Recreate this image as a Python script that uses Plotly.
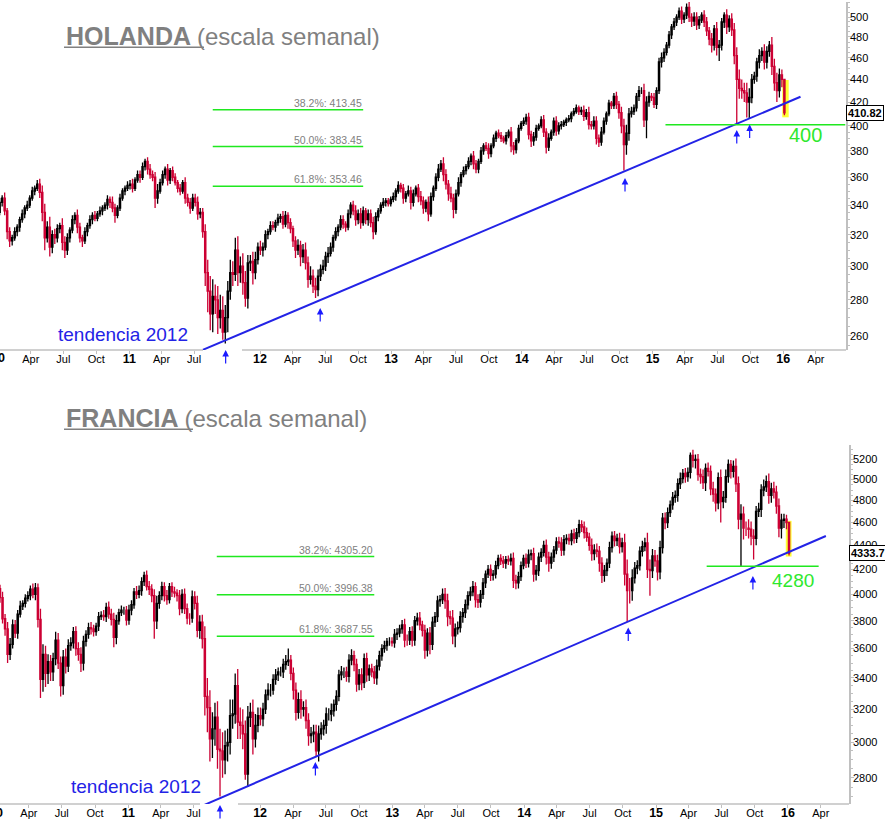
import math
import plotly.graph_objects as go
import pandas as pd

# ---------------- DATA (weekly) ----------------
# HOLANDA (AEX) weekly closes, by year (month groups separated by double space)
nl_close_2010 = [342, 345, 336, 322,  316, 318, 322, 325,  330, 334, 338, 340, 345,  350, 352, 355, 349,  335, 318, 325, 312, 320,  318, 324, 326, 315,  310, 318, 323, 330,  333, 325, 318, 316, 322,  326, 330, 333, 331,  334, 336, 338, 340,  344, 342, 338, 333, 338,  345, 350, 352, 354]
nl_close_2011 = [355, 352, 358, 362, 360,  368, 372, 366, 362,  360, 345, 350, 356,  362, 366, 358, 365,  360, 356, 352, 350, 356,  345, 342, 338, 345,  342, 334, 335, 322,  296, 285, 272, 282, 280,  270, 274, 262, 270,  285, 296, 295, 310, 296,  300, 290, 281, 302,  303, 296, 304, 312]
nl_close_2012 = [310, 312, 320, 322, 326,  325, 328, 331, 332,  327, 333, 328, 324,  316, 310, 313, 306, 310,  302, 292, 294, 288,  286, 294, 298, 300,  306, 308, 312, 318, 322,  325, 330, 327, 325,  334, 340, 336, 330,  334, 328, 336, 330, 334,  328, 322, 332, 336,  340, 342, 343, 341, 344]
nl_close_2013 = [346, 350, 354, 352,  345, 348, 350, 342,  348, 352, 346, 343,  338, 342, 334, 346, 352,  360, 366, 370, 362,  355, 348, 345, 337,  348, 356, 362, 365, 368,  372, 376, 370, 366,  372, 380, 384, 382, 378,  384, 390, 394, 392,  390, 388, 392, 395,  384, 381, 388, 398, 402]
nl_close_2014 = [404, 407, 393, 388,  391, 398, 400, 405,  395, 383, 390, 395, 404,  396, 400, 401, 403,  405, 406, 410, 412,  415, 412, 413, 408, 411,  401, 400, 404, 390,  387, 395, 404, 410,  419, 417, 425, 418, 411,  400, 385, 394, 410,  412, 415, 425, 430,  430, 405, 420, 425, 424]
nl_close_2015 = [418, 430, 456, 460,  465, 472, 482, 490,  495, 500, 506, 498, 502,  510, 500, 496, 500,  492, 497, 502, 495,  486, 478, 472, 488, 470,  472, 495, 502, 490,  498, 487, 462, 440, 432,  430, 428, 420, 424,  440, 443, 456, 462,  466, 456, 466, 472, 452,  437, 430, 444, 440]
nl_close_2016 = [410.82]
nl_open_first = 335

# upper / lower shadow lengths (index points)
nl_up_2010 = [3,2,4,2, 3,2,3,2, 2,3,2,3,2, 3,2,3,4, 5,6,4,7,3, 4,3,2,5, 4,3,2,3, 2,4,3,2,3, 2,3,2,3, 2,3,2,2, 3,2,4,3,2, 3,2,2,3]
nl_dn_2010 = [2,3,3,5, 4,3,2,3, 3,2,3,2,2, 2,3,2,4, 6,8,3,6,4, 4,3,3,5, 5,3,3,2, 3,4,3,4,2, 3,2,3,2, 2,2,3,2, 3,4,3,5,2, 2,2,3,2]
nl_up_2011 = [3,4,2,3,3, 3,2,3,4, 3,4,5,3, 3,2,4,2, 3,3,2,3,2, 4,3,3,3, 3,4,3,3, 5,8,9,10,7, 8,9,8,7, 6,8,7,8,9, 6,8,7,5, 4,6,5,3]
nl_dn_2011 = [3,3,2,2,4, 2,3,4,3, 3,7,4,2, 2,3,4,3, 3,2,3,3,2, 4,3,4,2, 3,4,3,4, 8,12,9,10,8, 9,6,4,6, 8,5,7,4,8, 6,7,5,6, 5,7,4,3]
nl_up_2012 = [4,3,3,2,3, 3,2,3,2, 4,3,2,3, 2,3,4,3,4, 5,4,6,4, 5,4,3,4, 3,4,3,2,3, 2,3,3,2, 3,2,3,4, 3,4,3,2,3, 3,4,3,2, 2,3,2,2,2]
nl_dn_2012 = [3,4,2,3,2, 2,3,2,3, 3,2,4,3, 4,5,3,6,4, 4,5,3,4, 5,4,3,3, 3,4,2,3,2, 3,2,3,3, 2,3,3,4, 3,4,2,3,4, 3,5,2,3, 2,2,3,2,2]
nl_up_2013 = [3,2,3,2, 3,2,4,3, 3,2,3,4, 3,2,4,3,2, 3,4,3,5, 4,3,5,3, 3,4,2,3,2, 3,2,4,3, 2,3,2,3,4, 2,3,2,3, 3,2,3,2, 4,3,2,3,2]
nl_dn_2013 = [2,3,2,3, 4,3,2,5, 3,2,4,3, 4,3,5,2,3, 2,3,2,5, 4,5,3,6, 3,2,3,2,3, 2,3,4,3, 3,2,3,2,4, 3,2,3,2, 3,2,3,2, 5,4,3,2,2]
nl_up_2014 = [3,3,4,3, 4,3,2,3, 4,3,4,2,3, 4,3,3,2, 2,3,2,3, 3,2,3,4,3, 5,3,4,4, 3,4,3,2, 3,2,3,4,3, 5,6,7,5, 4,3,3,4, 3,6,5,4,3]
nl_dn_2014 = [2,3,4,5, 4,3,2,2, 4,5,3,2,3, 4,3,3,2, 3,2,3,2, 2,3,3,4,3, 4,3,3,5, 4,3,2,3, 2,3,3,4,5, 6,20,8,6, 3,3,3,4, 3,6,15,4,3]
nl_up_2015 = [4,3,4,5, 4,3,4,3, 4,3,4,5,3, 4,6,4,5, 5,4,3,5, 5,4,6,4,7, 5,4,3,6, 4,6,7,8,9, 8,7,9,8, 5,4,4,6, 4,7,5,4,8, 7,9,6,5]
nl_dn_2015 = [3,4,3,5, 4,3,3,4, 3,4,3,5,4, 4,5,6,5, 5,4,3,5, 5,6,7,5,8, 13,5,6,7, 5,6,8,39,9, 7,8,13,14, 5,4,5,6, 5,7,6,5,8, 7,10,6,7]
nl_up_2016 = [0]
nl_dn_2016 = [2]

# FRANCIA (CAC 40) weekly closes
fr_close_2010 = [4045, 3975, 3815, 3740,  3560, 3630, 3770, 3710,  3850, 3910, 3930, 3970, 3990,  4040, 4000, 4050, 3810,  3390, 3560, 3430, 3510, 3440,  3530, 3660, 3500, 3350,  3540, 3480, 3620, 3640,  3720, 3600, 3560, 3500, 3650,  3700, 3750, 3740, 3720,  3760, 3830, 3840, 3830,  3900, 3850, 3810, 3680, 3800,  3860, 3880, 3880, 3805]
fr_close_2011 = [3880, 3920, 4020, 4000, 4030,  4100, 4150, 4060, 4040,  3990, 3800, 3930, 3990,  4060, 3990, 3960, 4060,  4020, 4010, 3990, 3890, 4000,  3890, 3820, 3820, 3980,  3930, 3730, 3790, 3670,  3280, 3210, 3020, 3080, 3150,  2960, 2950, 2900, 2980,  3000, 3160, 3170, 3350, 3120,  3100, 3050, 2820, 3150,  3180, 3020, 3100, 3160]
fr_close_2012 = [3140, 3200, 3290, 3320, 3320,  3390, 3420, 3440, 3440,  3490, 3510, 3520, 3430,  3320, 3180, 3260, 3200, 3210,  3130, 3040, 3050, 3060,  2950, 3050, 3080, 3100,  3170, 3170, 3190, 3230, 3280,  3420, 3440, 3440, 3410,  3520, 3550, 3490, 3360,  3420, 3370, 3530, 3420, 3460,  3440, 3400, 3480, 3550,  3600, 3620, 3650, 3650, 3640]
fr_close_2013 = [3700, 3710, 3740, 3770,  3660, 3660, 3720, 3660,  3800, 3820, 3770, 3730,  3590, 3710, 3630, 3790, 3830,  3950, 3960, 4000, 3950,  3830, 3820, 3690, 3740,  3750, 3830, 3860, 3920, 3990,  4020, 4060, 3960, 3940,  4000, 4090, 4160, 4200, 4150,  4160, 4230, 4290, 4270,  4250, 4280, 4270, 4290,  4110, 4090, 4140, 4230, 4290]
fr_close_2014 = [4250, 4320, 4330, 4160,  4190, 4300, 4340, 4400,  4300, 4250, 4300, 4360, 4430,  4420, 4360, 4450, 4460,  4440, 4500, 4460, 4510,  4580, 4560, 4510, 4470, 4400,  4330, 4360, 4350, 4250,  4150, 4190, 4250, 4380,  4480, 4440, 4460, 4390, 4420,  4160, 4030, 4030, 4130,  4210, 4230, 4350, 4390,  4420, 4200, 4190, 4310, 4270]
fr_close_2015 = [4180, 4380, 4640, 4600,  4690, 4760, 4830, 4850,  4960, 5010, 5060, 5030, 5070,  5240, 5190, 5200, 5050,  5030, 4970, 5110, 5080,  4910, 4860, 4780, 5020, 4790,  4830, 5030, 5150, 5080,  5130, 4960, 4630, 4675, 4550,  4550, 4540, 4480, 4460,  4700, 4720, 4900, 4930,  4980, 4850, 4910, 4880, 4750,  4550, 4620, 4630, 4600]
fr_close_2016 = [4333.7]
fr_open_first = 3936

fr_up_2010 = [40,30,45,35, 50,45,40,35, 30,40,25,30,35, 30,45,40,35, 80,70,60,50,45, 40,60,50,45, 50,60,45,40, 35,40,45,50,40, 30,35,40,30, 25,35,30,40, 35,45,40,50,45, 30,35,25,30]
fr_dn_2010 = [30,40,35,50, 60,40,30,35, 40,25,30,30,25, 35,30,45,60, 120,80,90,70,60, 60,45,40,70, 60,50,40,35, 40,50,45,60,50, 35,30,40,35, 30,35,25,30, 40,35,45,70,50, 30,25,35,40]
fr_up_2011 = [40,35,30,45,40, 35,30,40,45, 40,50,60,35, 40,35,45,30, 35,40,30,45,40, 45,40,35,50, 45,60,50,55, 90,120,110,100,90, 100,120,110,90, 80,100,90,80,110, 90,100,80,70, 60,80,70,50]
fr_dn_2011 = [35,40,30,35,30, 40,35,30,45, 50,130,60,40, 35,45,40,30, 40,35,45,50,35, 40,45,50,35, 45,50,60,70, 120,150,130,110,100, 110,250,100,80, 90,70,80,60,100, 80,90,30,70, 60,90,50,40]
fr_up_2012 = [50,40,35,45,40, 35,40,30,35, 40,45,80,35, 40,50,45,60,40, 50,45,40,45, 45,50,40,35, 40,35,45,30,40, 35,40,30,35, 40,45,35,40, 40,45,35,40,30, 35,40,45,35, 30,35,25,30,30]
fr_dn_2012 = [40,45,30,35,40, 30,35,40,30, 40,35,30,45, 60,50,40,60,45, 50,60,45,50, 30,60,35,40, 50,40,45,35,40, 30,35,40,35, 40,35,45,50, 40,50,35,45,40, 35,40,45,30, 35,30,35,30,25]
fr_up_2013 = [40,35,30,35, 45,40,35,40, 35,40,45,30, 40,35,45,40,35, 40,35,45,50, 55,45,60,40, 45,40,35,40,35, 40,45,35,40, 35,40,30,35,40, 35,40,30,35, 40,30,35,40, 50,45,40,35,30]
fr_dn_2013 = [35,40,30,35, 50,40,35,45, 40,35,40,45, 60,45,70,40,35, 40,45,35,60, 70,50,60,80, 40,35,45,40,35, 40,35,60,45, 40,35,40,30,45, 40,35,30,35, 40,45,35,40, 60,50,45,35,30]
fr_up_2014 = [40,45,35,50, 45,40,35,40, 50,45,40,35,40, 45,50,40,35, 40,35,45,40, 45,40,50,45,40, 60,50,55,45, 50,45,40,50, 40,45,40,50,45, 80,120,100,70, 50,45,40,50, 45,90,80,60,50]
fr_dn_2014 = [40,35,45,60, 50,45,40,35, 60,70,45,40,35, 40,50,45,40, 35,40,45,40, 40,45,50,40,45, 60,55,50,70, 60,50,45,40, 40,50,45,60,50, 90,240,100,80, 45,50,40,45, 40,70,200,60,50]
fr_up_2015 = [50,60,45,50, 45,40,50,45, 50,60,45,55,50, 30,60,50,55, 60,70,50,60, 60,70,55,50,80, 60,70,50,45, 60,80,70,90,70, 60,80,70,60, 50,60,55,70, 60,80,60,70,60, 70,60,50,40]
fr_dn_2015 = [70,60,50,60, 50,40,45,50, 60,50,45,60,50, 60,70,80,60, 70,60,80,50, 60,70,80,60,190, 60,50,60,70, 60,80,90,405,100, 70,80,80,180, 60,50,70,60, 50,80,70,60,70, 80,90,70,60]
fr_up_2016 = [0]
fr_dn_2016 = [20]

# Fibonacci retracement levels
fib_pct = ["38.2%", "50.0%", "61.8%"]
nl_fib_val = [413.45, 383.45, 353.46]
fr_fib_val = [4305.20, 3996.38, 3687.55]

# support levels / trend lines / last prices
nl_support, fr_support = 401, 4225
nl_support_label, fr_support_label = "400", "4280"
nl_trend_x, nl_trend_y = ["2011-07-25", "2016-02-18"], [252.7, 424.6]
fr_trend_x, fr_trend_y = ["2011-07-18", "2016-04-15"], [2646, 4481]
nl_last, fr_last = 410.82, 4333.7
nl_arrow_dates = ["2011-09-27", "2012-06-17", "2014-10-16", "2015-08-24", "2015-09-29"]
fr_arrow_dates = ["2011-09-12", "2012-06-02", "2014-10-16", "2015-09-26"]

nl_yticks = list(range(260, 501, 20))
fr_yticks = list(range(2800, 5201, 200))


# ---------------- build OHLC ----------------
def build(closes, ups, dns, open0):
    close, up, dn = [], [], []
    for c, u, d in zip(closes, ups, dns):
        close += c
        up += u
        dn += d
    opn = [open0] + close[:-1]
    high = [max(o, c) + u for o, c, u in zip(opn, close, up)]
    low = [min(o, c) - d for o, c, d in zip(opn, close, dn)]
    dates = pd.date_range("2010-01-04", periods=len(close), freq="7D")
    return dates, opn, high, low, close


nl = build([nl_close_2010, nl_close_2011, nl_close_2012, nl_close_2013, nl_close_2014, nl_close_2015, nl_close_2016],
           [nl_up_2010, nl_up_2011, nl_up_2012, nl_up_2013, nl_up_2014, nl_up_2015, nl_up_2016],
           [nl_dn_2010, nl_dn_2011, nl_dn_2012, nl_dn_2013, nl_dn_2014, nl_dn_2015, nl_dn_2016],
           nl_open_first)
fr = build([fr_close_2010, fr_close_2011, fr_close_2012, fr_close_2013, fr_close_2014, fr_close_2015, fr_close_2016],
           [fr_up_2010, fr_up_2011, fr_up_2012, fr_up_2013, fr_up_2014, fr_up_2015, fr_up_2016],
           [fr_dn_2010, fr_dn_2011, fr_dn_2012, fr_dn_2013, fr_dn_2014, fr_dn_2015, fr_dn_2016],
           fr_open_first)

RED = "#cc0033"
BLUE = "#2323e6"
GREEN = "#1fe81f"
GRAY = "#808080"
AXC = "#c0c0c0"
FONT = "Liberation Sans, Arial, sans-serif"
W, H = 885, 827
PW = 849.0  # plot width in px (paper width)


def px(x):
    return x / PW


def py(y):
    return 1 - y / H


fig = go.Figure()
for data, xa, ya in [(nl, "x", "y"), (fr, "x2", "y2")]:
    d, o, h, l, c = data
    fig.add_trace(go.Candlestick(
        x=d, open=o, high=h, low=l, close=c, xaxis=xa, yaxis=ya,
        increasing=dict(line=dict(color="black", width=1.3), fillcolor="white"),
        decreasing=dict(line=dict(color=RED, width=1.3), fillcolor=RED),
        whiskerwidth=0, showlegend=False, hoverinfo="skip"))

for tx, ty, xa, ya in [(nl_trend_x, nl_trend_y, "x", "y"), (fr_trend_x, fr_trend_y, "x2", "y2")]:
    fig.add_trace(go.Scatter(x=tx, y=ty, mode="lines", xaxis=xa, yaxis=ya,
                             line=dict(color=BLUE, width=2), showlegend=False, hoverinfo="skip"))

# x ticks
tickvals, ticktext = [], []
for yr in range(2010, 2017):
    for m, name in [(1, None), (4, "Apr"), (7, "Jul"), (10, "Oct")]:
        if (yr, m) in [(2010, 1), (2011, 10)]:
            continue
        tickvals.append(f"{yr}-{m:02d}-01")
        ticktext.append(f"<b><span style='font-size:12.5px'>{yr % 100:02d}</span></b>" if m == 1 else name)

xcommon = dict(type="date", rangeslider=dict(visible=False), tickvals=tickvals, ticktext=ticktext,
               ticks="outside", ticklen=3, tickcolor=AXC, showline=False, showgrid=False,
               zeroline=False, tickfont=dict(family=FONT, size=11, color="black"), fixedrange=True,
               ticklabelstandoff=-4)
ycommon = dict(type="log", side="right", showline=True, linecolor=AXC, linewidth=1.5, ticks="outside",
               ticklen=3, tickcolor=AXC, showgrid=False, zeroline=False, ticklabelstandoff=-3,
               tickfont=dict(family=FONT, size=11, color="black"), fixedrange=True)

fig.update_layout(
    width=W, height=H, margin=dict(l=0, r=W - PW, t=0, b=0),
    paper_bgcolor="white", plot_bgcolor="white", font=dict(family=FONT),
    xaxis=dict(xcommon, domain=[0, 846 / PW], anchor="y", range=["2010-01-05", "2016-06-24"]),
    yaxis=dict(ycommon, domain=[py(350), py(2)], anchor="x", range=[2.40247, 2.7124],
               tickvals=nl_yticks, ticktext=[str(v) for v in nl_yticks],
               minor=dict(tickvals=list(range(255, 520, 5)), ticks="outside", ticklen=2, tickcolor=AXC)),
    xaxis2=dict(xcommon, domain=[0, 1], anchor="y2", range=["2010-01-11", "2016-06-18"]),
    yaxis2=dict(ycommon, domain=[py(804), py(445)], anchor="x2", range=[3.42504, 3.7282],
                tickvals=fr_yticks, ticktext=[str(v) for v in fr_yticks],
                minor=dict(tickvals=list(range(2650, 5400, 50)), ticks="outside", ticklen=2, tickcolor=AXC)),
)

shapes, ann = [], []

# x axis lines with the gap
for y, segs in [(350, [(0, 203), (242, 846)]), (804, [(0, 200), (238, 849)])]:
    for a, b in segs:
        shapes.append(dict(type="line", xref="paper", yref="paper", x0=px(a), x1=px(b), y0=py(y), y1=py(y),
                           line=dict(color=AXC, width=1.5)))

# the "10" year label cut by the left edge
for xc, yc in [(-1.6, 358), (-4, 813)]:
    ann.append(dict(xref="paper", yref="paper", x=px(xc), y=py(yc), xanchor="center", yanchor="middle",
                    text="<b>10</b>", showarrow=False, font=dict(family=FONT, size=12.5, color="black")))

# titles
for name, ymid, yline, xend in [("HOLANDA", 35.6, 47.3, 204), ("FRANCIA", 418, 429.3, 193)]:
    ann.append(dict(xref="paper", yref="paper", x=px(64), y=py(ymid), xanchor="left", yanchor="middle",
                    showarrow=False, font=dict(family=FONT, size=24, color=GRAY),
                    text=f"<b><span style='font-size:25px'>{name} </span></b>(escala semanal)"))
    shapes.append(dict(type="line", xref="paper", yref="paper", x0=px(64), x1=px(xend), y0=py(yline),
                       y1=py(yline), line=dict(color=GRAY, width=1.5)))

# fibonacci lines (annotations on log axes take log10 positions)
for vals, xa, ya, x0, x1 in [(nl_fib_val, "x", "y", "2011-08-22", "2012-10-15"),
                             (fr_fib_val, "x2", "y2", "2011-09-03", "2012-11-12")]:
    for p, v in zip(fib_pct, vals):
        shapes.append(dict(type="line", xref=xa, yref=ya, x0=x0, x1=x1, y0=v, y1=v,
                           line=dict(color=GREEN, width=1.5)))
        ann.append(dict(xref=xa, yref=ya, x=x1, y=math.log10(v), xanchor="right", yanchor="bottom",
                        showarrow=False, text=f"{p}: {v:.2f}",
                        font=dict(family=FONT, size=10.5, color=GRAY), borderpad=0))

# support lines and labels
shapes.append(dict(type="line", xref="x", yref="y", x0="2015-02-06", x1="2016-06-22", y0=nl_support,
                   y1=nl_support, line=dict(color=GREEN, width=1.5)))
shapes.append(dict(type="line", xref="x2", yref="y2", x0="2015-05-21", x1="2016-03-26", y0=fr_support,
                   y1=fr_support, line=dict(color=GREEN, width=1.5)))
ann.append(dict(xref="paper", yref="paper", x=px(805), y=py(135), xanchor="center", yanchor="middle",
                text=nl_support_label, showarrow=False, font=dict(family=FONT, size=20, color="#2ee82e")))
ann.append(dict(xref="paper", yref="paper", x=px(792.5), y=py(580.3), xanchor="center", yanchor="middle",
                text=fr_support_label, showarrow=False, font=dict(family=FONT, size=19, color="#2ee82e")))

# yellow highlight of the last candle
shapes.append(dict(type="rect", xref="x", yref="y", x0="2015-12-29", x1="2016-01-16", y0=407.1, y1=439.5,
                   fillcolor="#ffff33", line=dict(width=0), layer="below"))
shapes.append(dict(type="rect", xref="x2", yref="y2", x0="2015-12-26", x1="2016-01-11", y0=4305, y1=4615,
                   fillcolor="#ffff33", line=dict(width=0), layer="below"))

# tendencia labels
ann.append(dict(xref="paper", yref="paper", x=px(123), y=py(334), xanchor="center", yanchor="middle",
                text="tendencia 2012", showarrow=False, font=dict(family=FONT, size=19, color=BLUE)))
ann.append(dict(xref="paper", yref="paper", x=px(136), y=py(786), xanchor="center", yanchor="middle",
                text="tendencia 2012", showarrow=False, font=dict(family=FONT, size=19, color=BLUE)))

# arrows
for dates, tips, xa in [(nl_arrow_dates, [350, 308, 178, 130, 124.5], "x"),
                        (fr_arrow_dates, [805, 762, 627.5, 576], "x2")]:
    for dte, tip in zip(dates, tips):
        ann.append(dict(xref=xa, yref="paper", x=dte, y=py(tip), ax=0, ay=15, text="", showarrow=True,
                        arrowhead=2, arrowsize=1.1, arrowwidth=1.2, arrowcolor="#1a1aff"))

# last price tags
ann.append(dict(xref="x domain", yref="y", x=1, y=math.log10(nl_last), xanchor="left", yanchor="middle",
                text=f"<b>{nl_last:.2f}</b>", showarrow=False, bgcolor="white", bordercolor="black",
                borderwidth=1, borderpad=1, font=dict(family=FONT, size=11, color="black")))
ann.append(dict(xref="x2 domain", yref="y2", x=1, y=math.log10(fr_last), xanchor="left", yanchor="middle",
                text=f"<b>{fr_last:.1f}</b>", showarrow=False, bgcolor="white", bordercolor="black",
                borderwidth=1, borderpad=1, font=dict(family=FONT, size=11, color="black")))

fig.update_layout(shapes=shapes, annotations=ann)
fig.write_html("out.html", config={"displayModeBar": False},
               post_script="document.body.style.margin='0px';document.body.style.overflow='hidden';")
